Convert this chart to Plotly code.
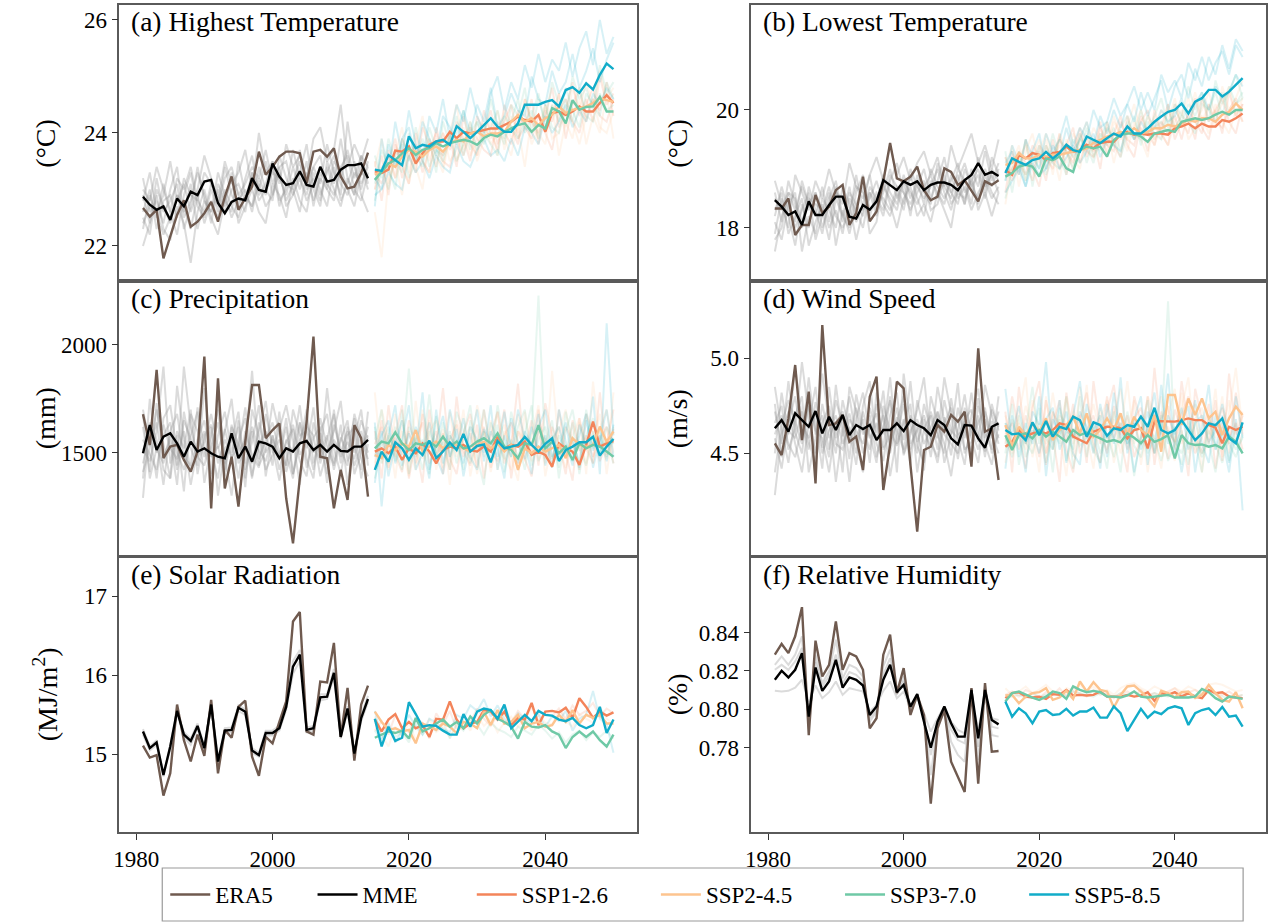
import plotly.graph_objects as go

# ---------------------------------------------------------------- data
years_hist = list(range(1981, 2015))
years_fut = list(range(2015, 2051))

# (a) Highest temperature, degC
tmax_era5 = [22.67,22.52,22.64,21.78,22.17,22.55,22.81,22.34,22.43,22.58,22.78,22.43,22.87,23.23,22.64,22.84,23.05,23.67,23.26,23.40,
             23.58,23.67,23.67,23.64,23.11,23.67,23.70,23.58,23.73,23.23,23.02,23.05,23.29,23.65]
tmax_mme = [22.87,22.73,22.64,22.70,22.46,22.84,22.70,22.96,22.90,23.14,23.17,22.76,22.58,22.78,22.84,22.81,23.20,22.99,22.96,23.46,
            23.23,23.08,23.11,23.32,23.08,23.05,23.40,23.14,23.17,23.35,23.43,23.43,23.46,23.20]
tmax_ssp126 = [23.32,23.29,23.35,23.69,23.67,23.76,23.46,23.64,23.79,23.85,23.85,24.02,23.91,24.02,23.99,24.02,24.05,24.08,24.08,24.14,
               24.20,24.29,24.23,24.20,24.32,24.02,24.35,24.38,24.32,24.38,24.47,24.38,24.38,24.53,24.67,24.53]
tmax_ssp245 = [23.26,23.32,23.46,23.40,23.58,23.70,23.67,23.58,23.70,23.76,23.67,23.82,23.88,23.85,23.99,24.02,23.94,23.99,23.99,24.02,
               24.20,24.32,24.20,24.26,24.14,24.26,24.32,24.47,24.35,24.41,24.44,24.47,24.53,24.61,24.58,24.55]
tmax_ssp370 = [23.17,23.32,23.46,23.52,23.64,23.73,23.61,23.70,23.73,23.82,23.76,23.82,23.85,23.88,23.85,23.79,23.91,23.97,23.94,24.02,
               24.08,24.14,24.17,24.02,24.14,24.08,24.44,24.38,24.17,24.58,24.41,24.46,24.47,24.64,24.38,24.38]
tmax_ssp585 = [23.35,23.33,23.61,23.52,23.43,23.94,23.73,23.79,23.76,23.85,23.88,23.79,24.12,24.02,23.91,24.02,24.14,24.26,24.11,24.02,
               24.02,24.17,24.50,24.50,24.50,24.55,24.58,24.47,24.76,24.81,24.71,24.88,24.77,25.03,25.23,25.13]
tmax_hist_members = [
    [22.3,22.9,22.5,23.1,22.6,22.2,22.9,23.3,22.7,22.5,23.0,22.6,23.4,22.9,22.7,23.2,23.6,22.9,23.1,23.5,22.8,23.0,23.7,23.2,22.9,23.4,23.1,23.8,23.3,22.9,24.2,23.4,23.0,23.5],
    [23.2,22.6,22.8,22.4,23.0,23.4,22.5,22.8,23.3,22.9,22.4,23.1,22.8,22.6,23.5,22.9,22.7,23.4,23.0,22.8,23.6,23.2,22.9,23.3,23.8,23.0,22.7,23.5,23.1,23.9,23.2,22.9,23.6,23.1],
    [22.0,22.4,22.9,22.3,22.1,22.7,22.4,21.7,22.6,23.0,22.5,22.2,22.8,23.2,22.4,22.7,23.0,22.6,22.4,23.1,22.9,22.5,23.2,22.8,22.6,23.3,23.0,22.7,23.4,22.8,23.1,23.5,22.9,22.6],
    [22.8,23.3,22.6,22.9,23.5,22.8,23.1,22.6,23.0,23.6,23.2,22.8,23.5,23.1,23.3,23.7,23.0,24.0,23.3,23.5,23.1,23.8,23.4,23.6,23.2,23.9,24.1,23.5,23.7,24.5,23.4,23.8,23.5,23.9],
    [22.5,22.2,23.0,22.7,22.4,22.9,22.6,23.1,22.3,22.8,22.6,23.3,22.9,22.5,22.8,23.0,22.6,23.2,22.9,23.4,22.7,23.1,23.0,22.6,23.3,22.8,23.2,23.0,22.8,23.4,23.0,22.7,23.3,23.2],
    [22.6,23.0,22.3,22.8,22.9,22.5,23.2,22.9,22.8,22.6,23.1,22.9,22.6,23.0,23.1,22.8,23.3,23.0,23.5,22.9,23.3,22.8,23.1,23.5,23.0,23.2,22.9,23.3,23.6,23.1,22.9,23.3,23.1,23.4],
    [22.9,22.4,23.2,22.6,22.8,23.1,22.3,22.7,23.4,22.8,22.6,23.0,22.7,23.3,22.9,22.6,23.3,22.8,23.0,23.3,23.2,22.9,23.4,23.0,23.5,22.7,23.3,23.1,22.9,23.4,23.6,23.0,22.8,23.3],
    [22.4,22.7,22.6,22.2,22.5,22.9,22.7,22.3,22.9,22.4,22.8,22.5,23.0,22.7,22.5,22.9,22.7,23.1,22.7,22.9,23.4,22.7,22.9,23.2,22.8,23.1,22.8,23.4,23.0,22.7,23.2,22.9,23.4,23.0],
    [23.0,22.8,23.4,23.0,22.6,23.2,23.0,23.4,22.8,23.3,23.1,22.7,23.2,23.4,22.9,23.1,23.4,23.2,23.7,23.1,23.4,23.5,23.0,23.7,23.1,23.4,23.6,23.0,23.5,23.3,23.7,23.2,23.6,23.4],
]
tmax_ssp126_members = [
    [23.0,23.6,22.9,23.8,23.4,23.1,24.0,23.5,23.3,24.1,23.6,23.9,23.4,24.3,23.8,23.6,24.4,24.0,23.7,24.5,24.1,23.8,24.6,24.2,24.0,24.3,24.8,24.1,24.4,24.9,24.3,24.6,24.2,25.0,24.5,24.7],
    [23.5,22.8,23.7,23.2,23.9,23.6,23.3,24.1,23.8,23.4,24.0,23.7,24.2,23.9,23.5,24.3,24.0,24.4,23.8,24.2,24.5,23.9,24.1,24.6,23.8,24.4,24.2,24.7,23.9,24.5,24.8,24.2,24.6,24.4,24.9,24.3],
    [23.3,23.1,23.5,23.9,23.2,23.6,23.8,23.3,23.7,24.0,23.5,23.4,23.9,23.6,24.1,23.9,23.7,23.6,24.2,24.0,23.8,24.4,24.1,23.9,24.3,24.0,23.7,24.4,24.6,24.2,24.0,24.5,24.8,24.3,24.2,24.6],
]
tmax_ssp245_members = [
    [22.6,21.8,23.2,23.5,22.9,23.8,23.4,23.0,23.9,23.6,23.3,24.0,23.5,23.8,24.2,23.6,24.1,23.9,24.4,23.7,24.3,24.0,24.6,24.2,23.9,24.5,24.3,24.7,24.1,24.8,24.4,24.9,24.5,25.1,24.6,24.8],
    [23.4,23.9,23.1,23.6,24.1,23.3,23.8,24.3,23.5,23.9,23.4,24.0,24.5,23.7,24.1,23.5,23.9,24.2,23.6,24.4,23.9,24.1,23.4,24.3,24.0,23.8,24.5,23.6,24.2,23.9,24.6,23.8,24.3,24.0,24.7,23.9],
    [23.0,23.4,23.6,23.2,23.5,23.1,23.7,23.5,23.3,23.8,24.0,23.5,23.7,24.1,23.6,23.9,24.2,23.8,24.0,23.9,23.6,24.2,24.4,23.8,24.1,24.5,23.9,24.0,24.4,24.2,23.8,24.3,24.6,24.1,24.0,24.4],
]
tmax_ssp370_members = [
    [23.1,23.7,23.4,23.0,23.9,23.5,24.1,23.6,23.9,23.3,24.2,23.8,24.0,24.4,23.7,24.2,23.9,24.6,24.1,23.8,24.5,24.3,24.8,24.0,24.6,24.2,24.9,24.5,24.3,25.0,24.6,24.8,24.4,25.2,24.7,24.9],
    [23.6,23.2,23.9,23.5,23.3,24.0,23.6,23.4,24.1,23.7,23.5,23.9,24.3,23.6,24.0,24.2,23.8,24.1,24.4,23.9,24.2,24.6,24.0,24.3,24.7,24.1,24.5,24.2,24.8,24.4,24.1,24.7,24.5,24.3,24.9,24.6],
    [22.8,23.4,23.0,23.6,23.8,23.2,23.5,23.9,23.4,23.7,23.6,24.0,23.5,23.8,24.2,23.7,24.0,23.8,23.6,24.3,24.1,23.9,24.2,24.4,23.9,24.5,24.1,24.0,24.6,24.2,24.8,24.3,24.2,24.7,24.4,24.5],
]
tmax_ssp585_members = [
    [22.7,23.9,23.3,24.2,23.6,24.4,23.8,23.5,24.3,24.0,24.6,23.9,24.5,24.2,24.8,24.3,24.0,24.7,25.0,24.4,24.9,24.6,25.2,24.8,25.4,24.9,25.3,25.1,25.6,25.0,25.5,25.8,25.2,26.0,25.4,25.7],
    [22.9,23.0,23.3,23.1,23.0,23.6,23.3,23.5,23.2,23.6,23.4,23.3,23.8,23.5,23.4,23.7,23.9,23.6,23.7,23.5,23.9,23.6,24.1,24.0,23.8,24.3,24.0,24.2,24.5,24.1,24.4,24.2,24.7,24.5,24.8,24.6],
    [23.2,23.0,23.8,23.4,23.9,24.1,23.5,24.2,23.9,23.6,24.3,24.1,23.8,24.4,24.0,24.5,24.2,24.8,24.1,24.3,24.7,24.4,24.3,25.0,24.6,24.5,25.1,24.7,24.9,25.4,24.8,25.1,25.5,24.9,25.3,25.6],
]

# (b) Lowest temperature, degC
tmin_era5 = [18.33,18.33,18.50,17.88,18.05,18.05,18.56,18.25,18.36,18.64,18.73,18.05,18.25,18.87,18.11,18.28,18.79,19.44,18.84,18.79,
             18.87,19.04,18.64,18.47,18.53,19.01,18.95,18.73,18.81,18.62,18.45,18.79,18.73,18.81]
tmin_mme = [18.47,18.36,18.22,18.28,18.05,18.45,18.22,18.22,18.39,18.53,18.53,18.19,18.16,18.39,18.31,18.45,18.81,18.73,18.64,18.79,
            18.73,18.79,18.64,18.73,18.77,18.77,18.73,18.64,18.81,18.90,19.10,18.90,18.95,18.88]
tmin_ssp126 = [18.98,18.90,19.24,19.18,19.27,19.24,19.15,19.27,19.29,19.38,19.29,19.32,19.41,19.35,19.44,19.46,19.46,19.58,19.63,19.58,
               19.60,19.58,19.60,19.60,19.58,19.69,19.72,19.77,19.69,19.77,19.72,19.72,19.83,19.80,19.86,19.94]
tmin_ssp245 = [19.07,19.10,19.27,19.18,19.18,19.24,19.21,19.24,19.24,19.27,19.29,19.32,19.35,19.44,19.49,19.55,19.58,19.63,19.60,19.69,
               19.60,19.63,19.69,19.69,19.75,19.72,19.77,19.83,19.80,19.86,19.86,19.80,19.92,19.97,20.11,20.00]
tmin_ssp370 = [18.87,18.93,19.04,19.07,19.04,18.87,19.18,19.15,19.21,19.01,18.95,19.32,19.38,19.35,19.38,19.21,19.49,19.58,19.60,19.60,
               19.55,19.46,19.60,19.63,19.66,19.63,19.80,19.83,19.86,19.83,19.86,19.92,19.97,19.92,20.00,20.00]
tmin_ssp585 = [18.93,19.18,19.12,19.07,19.15,19.18,19.29,19.18,19.27,19.41,19.32,19.29,19.55,19.49,19.44,19.52,19.60,19.55,19.72,19.60,
               19.60,19.69,19.80,19.89,19.97,20.00,20.11,19.94,20.14,20.20,20.34,20.34,20.23,20.31,20.42,20.54]
tmin_hist_members = [
    [17.9,18.5,18.2,17.7,18.4,18.0,18.6,18.3,17.8,18.5,18.2,18.7,18.1,18.4,18.9,18.3,18.6,19.0,18.5,18.8,18.2,18.9,18.6,18.4,19.1,18.7,18.5,19.0,18.8,18.4,19.2,18.7,18.9,18.6],
    [18.6,18.1,18.8,18.4,18.0,18.7,18.3,17.9,18.5,18.8,18.2,18.0,18.6,18.9,18.3,18.5,18.2,18.8,19.1,18.6,18.4,18.7,19.0,18.5,18.8,19.2,18.6,18.9,18.4,19.0,18.7,19.3,18.8,19.1],
    [18.1,17.8,18.4,18.6,17.6,18.2,17.9,18.5,18.3,18.0,18.7,18.4,17.8,18.3,18.5,18.8,18.4,18.2,18.6,18.3,18.9,18.5,18.2,18.8,18.6,18.4,18.9,18.5,18.7,18.3,18.6,18.8,18.5,18.7],
    [18.8,18.4,18.0,18.9,18.6,18.3,18.8,18.5,19.0,18.6,18.4,19.1,18.7,18.5,18.9,19.2,18.8,19.4,18.9,19.2,18.8,19.1,19.3,18.9,19.2,18.7,19.4,19.0,19.3,19.6,19.1,19.4,19.0,19.5],
    [18.3,18.6,17.9,18.2,18.5,17.7,18.1,18.4,18.0,18.3,17.9,18.5,18.3,18.0,18.6,18.2,18.7,18.5,18.3,18.8,18.6,18.4,18.7,18.9,18.5,18.8,18.6,18.4,19.0,18.7,18.9,18.5,19.0,18.8],
    [17.6,18.2,18.5,18.0,18.3,18.6,17.8,18.2,18.6,17.7,18.3,17.9,18.4,18.7,17.9,18.1,18.8,18.4,18.0,18.5,18.7,18.2,18.4,18.1,18.6,18.3,18.0,18.7,18.4,18.9,18.3,18.6,18.2,18.6],
    [18.2,18.7,18.3,18.1,18.8,18.4,18.2,18.7,18.1,18.6,18.5,18.2,18.9,18.3,18.6,18.4,18.9,18.6,18.4,18.9,18.5,18.8,18.4,19.0,18.7,18.5,18.8,19.1,18.6,18.8,19.0,18.6,19.2,18.9],
    [18.5,18.3,18.6,18.3,18.7,18.4,18.6,18.0,18.4,18.7,18.1,18.6,18.4,18.2,18.7,18.5,18.3,18.9,18.7,18.4,19.0,18.7,18.5,18.7,19.0,18.6,18.3,18.8,19.1,18.7,18.5,19.0,18.7,19.0],
    [17.8,18.0,18.6,18.5,18.1,18.5,18.4,18.3,18.7,18.2,18.0,18.3,18.7,18.6,18.2,18.6,18.5,18.3,18.7,18.6,18.3,18.6,18.8,18.3,18.4,18.9,18.4,18.6,18.5,18.8,18.4,18.9,18.6,18.4],
]
tmin_ssp126_members = [
    [18.6,19.3,18.9,19.5,19.0,18.7,19.4,19.1,19.6,18.9,19.3,19.7,19.2,19.5,19.0,19.8,19.4,19.2,19.9,19.5,19.7,19.3,20.0,19.6,19.4,20.1,19.7,19.9,19.5,20.2,19.8,20.0,19.6,20.3,19.9,20.1],
    [19.2,18.8,19.1,18.9,19.4,19.2,18.8,19.5,19.0,19.4,19.7,19.1,19.5,19.3,19.8,19.2,19.6,19.9,19.4,19.2,19.8,20.0,19.5,19.7,20.1,19.5,19.8,19.6,20.2,19.7,19.5,20.0,20.2,19.8,19.6,20.1],
    [18.9,19.0,19.3,19.1,18.8,19.4,19.2,19.0,19.5,19.3,19.1,19.6,19.3,19.2,19.7,19.4,19.3,19.8,19.5,19.4,19.9,19.6,19.4,19.8,19.6,19.9,19.5,20.0,19.8,19.6,20.1,19.8,19.7,20.0,20.2,19.8],
]
tmin_ssp245_members = [
    [19.0,19.4,18.7,19.3,19.6,19.1,19.5,18.9,19.6,19.3,19.0,19.5,19.8,19.3,19.6,19.4,19.9,19.5,19.7,20.1,19.6,19.9,19.4,20.0,19.8,20.2,19.7,19.9,20.3,19.8,20.1,19.7,20.4,20.0,20.2,20.5],
    [18.4,19.1,19.4,18.8,19.2,19.5,19.0,19.3,18.8,19.5,19.2,19.0,19.6,19.2,19.4,19.7,19.1,19.6,19.3,19.8,19.5,19.2,19.9,19.6,19.4,19.8,20.0,19.5,19.7,19.9,19.6,20.1,19.8,19.6,20.0,19.8],
    [19.2,18.9,19.2,19.4,19.0,19.3,19.6,19.2,19.4,19.1,19.6,19.4,19.3,19.7,19.5,19.3,19.8,19.6,19.5,19.7,20.0,19.6,19.8,19.5,20.1,19.7,19.9,20.2,19.8,20.0,20.3,19.9,20.1,20.4,19.9,20.2],
]
tmin_ssp370_members = [
    [18.8,19.2,19.0,19.5,18.7,19.3,19.1,19.6,19.2,18.9,19.5,19.3,19.7,19.2,19.5,19.8,19.4,19.7,19.9,19.5,20.0,19.6,19.9,20.2,19.7,20.1,19.9,20.4,20.0,20.3,19.8,20.5,20.1,20.3,20.6,20.2],
    [19.3,18.6,19.3,18.9,19.1,19.4,18.9,19.2,19.5,19.3,19.0,19.6,19.1,19.5,19.3,19.7,19.5,19.2,19.6,19.9,19.4,19.8,19.6,19.5,20.0,19.7,19.9,19.8,19.6,20.1,20.0,19.8,20.3,19.9,20.1,20.2],
    [18.5,19.0,19.2,18.8,19.3,19.0,19.4,19.1,19.0,19.4,19.2,19.5,19.4,19.1,19.6,19.4,19.7,19.3,19.8,19.6,19.5,19.9,19.7,19.8,19.6,20.0,19.8,20.1,19.9,20.2,20.0,20.3,19.9,20.4,20.1,20.3],
]
tmin_ssp585_members = [
    [18.6,18.8,19.0,18.7,19.1,18.9,19.0,19.3,19.0,19.2,19.4,19.1,19.3,19.6,19.2,19.5,19.4,19.3,19.7,19.5,19.8,19.6,19.7,20.0,19.8,19.9,20.2,19.8,20.1,20.3,20.0,20.4,20.2,20.3,20.6,20.4],
    [18.8,19.4,19.1,18.7,19.3,19.6,19.0,19.4,19.2,19.7,19.3,19.5,19.8,19.4,19.9,19.6,20.0,19.7,20.1,19.8,20.3,19.9,20.2,20.5,20.0,20.4,20.6,20.2,20.7,20.4,20.9,20.6,21.1,20.7,21.2,21.0],
    [19.1,19.3,18.9,19.5,19.2,19.0,19.6,19.3,19.5,19.9,19.4,19.7,19.5,20.0,19.7,19.8,20.2,19.9,20.1,20.4,20.0,20.3,20.0,20.6,20.3,20.5,20.2,20.8,20.5,20.9,20.5,20.8,21.0,20.6,21.1,20.9],
]

# (c) Precipitation, mm
precip_era5 = [1678,1536,1884,1474,1528,1536,1466,1412,1505,1946,1241,1845,1334,1481,1249,1551,1814,1814,1567,1605,
               1636,1288,1079,1381,1644,2039,1481,1474,1241,1420,1280,1628,1567,1296]
precip_mme = [1497,1628,1512,1574,1590,1543,1481,1551,1505,1520,1497,1481,1474,1590,1474,1528,1458,1551,1543,1528,
              1474,1520,1505,1543,1554,1512,1536,1505,1536,1508,1505,1528,1528,1559]
precip_ssp126 = [1505,1520,1497,1528,1466,1520,1497,1543,1505,1450,1512,1528,1520,1536,1512,1505,1528,1505,1574,1520,
                 1536,1528,1551,1489,1505,1489,1435,1543,1520,1505,1443,1536,1644,1528,1543,1554]
precip_ssp245 = [1489,1474,1536,1512,1543,1528,1605,1505,1528,1551,1520,1543,1536,1520,1505,1536,1551,1520,1543,1505,
                 1536,1420,1520,1497,1528,1505,1520,1536,1474,1567,1536,1528,1536,1621,1551,1598]
precip_ssp370 = [1520,1551,1543,1594,1543,1512,1543,1536,1551,1528,1574,1528,1551,1520,1528,1551,1567,1543,1590,1528,
                 1512,1474,1543,1536,1628,1520,1551,1497,1528,1466,1543,1520,1536,1528,1505,1481]
precip_ssp585 = [1420,1505,1458,1548,1520,1466,1520,1489,1556,1474,1505,1548,1512,1587,1505,1531,1538,1455,1554,1520,
                 1528,1536,1573,1536,1505,1541,1567,1461,1512,1528,1548,1548,1574,1486,1528,1563]
precip_hist_members = [
    [1620,1410,1730,1480,1560,1350,1690,1520,1440,1800,1500,1380,1610,1470,1650,1420,1550,1720,1390,1580,1480,1660,1400,1540,1700,1450,1590,1360,1630,1510,1440,1680,1560,1470],
    [1450,1590,1380,1660,1720,1500,1420,1580,1690,1360,1530,1640,1450,1570,1380,1600,1490,1430,1680,1520,1370,1550,1610,1460,1390,1640,1500,1580,1420,1560,1650,1400,1500,1620],
    [1700,1530,1640,1420,1380,1810,1560,1350,1520,1600,1400,1750,1480,1300,1560,1660,1390,1530,1600,1440,1690,1410,1520,1720,1470,1380,1660,1530,1440,1630,1350,1570,1700,1440],
    [1380,1750,1500,1580,1640,1440,1900,1620,1480,1550,1680,1520,1600,1750,1450,1520,1880,1470,1560,1640,1500,1440,1700,1580,1600,1520,1470,1800,1520,1400,1580,1620,1380,1540],
    [1520,1460,1600,1900,1450,1580,1320,1680,1600,1480,1620,1300,1520,1560,1690,1380,1600,1440,1510,1730,1590,1500,1380,1640,1520,1710,1450,1560,1680,1480,1550,1470,1600,1500],
    [1290,1640,1560,1350,1600,1680,1480,1440,1710,1520,1390,1580,1690,1500,1620,1340,1700,1580,1420,1490,1610,1720,1560,1350,1620,1580,1390,1510,1600,1740,1460,1530,1420,1690],
    [1560,1490,1420,1630,1520,1470,1600,1410,1560,1650,1480,1530,1390,1620,1540,1450,1620,1510,1460,1580,1420,1560,1500,1640,1430,1570,1620,1450,1560,1500,1600,1440,1530,1580],
    [1410,1520,1700,1540,1380,1600,1520,1700,1400,1580,1630,1450,1560,1480,1520,1710,1450,1600,1740,1500,1560,1440,1630,1490,1560,1420,1600,1680,1450,1570,1500,1660,1470,1390],
    [1680,1380,1520,1450,1590,1420,1650,1560,1480,1440,1580,1700,1420,1630,1500,1560,1380,1640,1500,1560,1480,1620,1400,1560,1650,1500,1560,1400,1700,1450,1620,1500,1650,1560],
]
precip_ssp126_members = [
    [1600,1380,1720,1490,1410,1650,1530,1360,1700,1480,1590,1420,1760,1510,1440,1630,1380,1580,1690,1450,1540,1820,1470,1390,1610,1560,1430,1700,1500,1370,1660,1520,1450,1780,1490,1610],
    [1420,1650,1500,1580,1720,1380,1560,1640,1450,1530,1800,1470,1400,1590,1680,1500,1620,1430,1550,1700,1380,1600,1510,1650,1440,1730,1580,1480,1620,1550,1420,1680,1590,1460,1540,1700],
    [1540,1620,1430,1570,1490,1600,1450,1680,1520,1600,1400,1560,1630,1480,1590,1430,1700,1510,1460,1580,1640,1450,1560,1500,1700,1470,1620,1540,1400,1650,1510,1580,1480,1560,1620,1450],
]
precip_ssp245_members = [
    [1780,1450,1590,1380,1650,1520,1420,1700,1560,1480,1610,1350,1650,1540,1470,1720,1590,1410,1560,1630,1480,1370,1690,1500,1600,1450,1880,1520,1430,1580,1660,1400,1830,1550,1470,1780],
    [1490,1560,1420,1680,1510,1390,1740,1470,1600,1650,1430,1580,1500,1700,1390,1560,1480,1650,1420,1600,1540,1680,1460,1580,1720,1390,1550,1620,1500,1470,1640,1550,1450,1610,1700,1500],
    [1450,1700,1560,1480,1600,1450,1580,1500,1650,1420,1560,1690,1480,1560,1620,1400,1600,1530,1690,1480,1420,1600,1560,1460,1650,1540,1470,1600,1700,1500,1560,1450,1560,1680,1400,1620],
]
precip_ssp370_members = [
    [1560,1700,1450,1620,1530,1890,1480,1560,1400,1670,1520,1600,1450,1580,1720,1480,1350,1640,1550,1470,1690,1560,1420,1610,2230,1500,1580,1430,1690,1540,1460,1700,1520,1610,1480,1570],
    [1380,1530,1620,1460,1700,1400,1580,1510,1770,1480,1550,1420,1690,1600,1450,1540,1700,1500,1630,1410,1560,1480,1590,1720,1460,1540,1650,1380,1600,1700,1520,1440,1600,1480,1620,1540],
    [1620,1450,1580,1520,1420,1620,1550,1420,1600,1500,1640,1480,1560,1420,1650,1520,1600,1460,1720,1550,1480,1620,1700,1440,1560,1620,1470,1580,1500,1640,1400,1580,1660,1500,1560,1450],
]
precip_ssp585_members = [
    [1640,1250,1580,1720,1440,1590,1500,1780,1420,1560,1670,1480,1610,1390,1550,1700,1460,1600,1520,1380,1660,1540,1470,1620,1500,1580,1430,1700,1550,1440,1630,1520,1760,1400,2100,1580],
    [1480,1600,1390,1540,1650,1470,1620,1520,1380,1700,1450,1580,1520,1660,1480,1420,1610,1550,1480,1690,1520,1450,1600,1530,1680,1440,1560,1620,1490,1570,1430,1650,1510,1580,1460,1630],
    [1360,1580,1650,1450,1560,1720,1420,1500,1640,1480,1400,1700,1560,1450,1620,1560,1500,1720,1420,1580,1480,1700,1560,1400,1620,1700,1480,1520,1640,1460,1580,1680,1430,1560,1700,1480],
]

# (d) Wind speed, m/s
wind_era5 = [4.553,4.491,4.684,4.965,4.570,4.825,4.342,5.175,4.649,4.658,4.702,4.561,4.588,4.412,4.798,4.904,4.307,4.544,4.877,4.842,
             4.439,4.088,4.518,4.535,4.649,4.614,4.702,4.667,4.719,4.430,5.053,4.614,4.632,4.360]
wind_mme = [4.632,4.675,4.614,4.711,4.675,4.640,4.723,4.605,4.693,4.623,4.702,4.596,4.649,4.628,4.649,4.570,4.623,4.623,4.658,4.618,
            4.675,4.649,4.632,4.596,4.675,4.649,4.579,4.547,4.649,4.646,4.579,4.530,4.640,4.658]
wind_ssp126 = [4.535,4.561,4.623,4.588,4.605,4.614,4.605,4.623,4.658,4.649,4.588,4.570,4.553,4.614,4.628,4.640,4.640,4.632,4.579,4.623,
               4.632,4.526,4.670,4.670,4.670,4.667,4.675,4.684,4.675,4.675,4.649,4.635,4.553,4.640,4.623,4.640]
wind_ssp245 = [4.649,4.535,4.640,4.596,4.658,4.614,4.684,4.570,4.623,4.649,4.693,4.605,4.711,4.588,4.623,4.684,4.623,4.711,4.596,4.693,
               4.623,4.596,4.702,4.509,4.807,4.807,4.649,4.789,4.702,4.789,4.684,4.719,4.596,4.684,4.746,4.702]
wind_ssp370 = [4.596,4.518,4.596,4.605,4.579,4.623,4.588,4.614,4.588,4.561,4.623,4.596,4.610,4.596,4.579,4.561,4.570,4.558,4.605,4.582,
               4.553,4.596,4.561,4.575,4.596,4.474,4.596,4.553,4.544,4.547,4.535,4.544,4.526,4.588,4.561,4.500]
wind_ssp585 = [4.623,4.600,4.605,4.570,4.663,4.596,4.670,4.588,4.640,4.628,4.693,4.675,4.588,4.663,4.649,4.593,4.632,4.623,4.649,4.640,
               4.693,4.640,4.740,4.623,4.605,4.623,4.675,4.623,4.570,4.605,4.658,4.649,4.684,4.579,4.553,4.663]
wind_hist_members = [
    [4.72,4.55,4.88,4.61,4.50,4.79,4.66,4.42,4.85,4.58,4.70,4.47,4.81,4.63,4.52,4.76,4.60,4.90,4.55,4.68,4.44,4.78,4.62,4.53,4.85,4.66,4.49,4.74,4.58,4.82,4.60,4.51,4.73,4.64],
    [4.50,4.82,4.60,4.95,4.68,4.52,4.77,4.63,4.48,4.86,4.59,4.71,4.55,4.40,4.74,4.61,4.83,4.50,4.69,4.57,4.88,4.54,4.45,4.72,4.60,4.50,4.79,4.58,4.67,4.48,4.75,4.61,4.52,4.80],
    [4.85,4.62,4.45,4.70,4.80,4.40,4.58,4.92,4.66,4.50,4.78,4.62,4.44,4.75,4.88,4.55,4.46,4.70,4.82,4.49,4.60,4.73,4.90,4.56,4.48,4.69,4.60,4.87,4.50,4.62,4.79,4.55,4.44,4.66],
    [4.28,4.60,4.72,4.55,4.40,4.66,4.85,4.53,4.70,4.35,4.62,4.80,4.58,4.68,4.45,4.82,4.70,4.38,4.59,4.76,4.52,4.64,4.41,4.80,4.66,4.55,4.38,4.62,4.81,4.58,4.45,4.72,4.60,4.50],
    [4.66,4.75,4.52,4.63,4.98,4.70,4.50,4.76,4.58,4.67,4.40,4.85,4.72,4.50,4.64,4.71,4.53,4.80,4.40,4.92,4.65,4.50,4.76,4.62,4.58,4.90,4.71,4.47,4.68,4.73,4.56,4.86,4.70,4.58],
    [4.58,4.42,4.66,4.80,4.57,4.90,4.60,4.70,4.52,4.78,4.65,4.35,4.68,4.82,4.60,4.45,4.75,4.62,4.54,4.66,4.76,4.40,4.63,4.70,4.52,4.78,4.62,4.58,4.44,4.70,4.84,4.58,4.67,4.55],
    [4.60,4.70,4.55,4.48,4.65,4.58,4.72,4.50,4.62,4.70,4.55,4.64,4.50,4.72,4.58,4.66,4.52,4.60,4.74,4.50,4.62,4.68,4.55,4.64,4.72,4.45,4.60,4.68,4.52,4.56,4.66,4.74,4.50,4.60],
    [4.76,4.48,4.62,4.58,4.72,4.56,4.45,4.66,4.75,4.55,4.52,4.68,4.62,4.55,4.70,4.48,4.64,4.78,4.62,4.52,4.70,4.56,4.68,4.48,4.72,4.60,4.55,4.50,4.74,4.62,4.52,4.68,4.58,4.72],
    [4.40,4.65,4.78,4.66,4.55,4.75,4.62,4.58,4.40,4.66,4.72,4.55,4.74,4.60,4.66,4.58,4.70,4.55,4.66,4.80,4.55,4.62,4.70,4.58,4.45,4.66,4.74,4.60,4.62,4.52,4.70,4.48,4.76,4.62],
]
wind_ssp126_members = [
    [4.72,4.40,4.85,4.55,4.66,4.48,4.78,4.60,4.35,4.82,4.58,4.70,4.45,4.88,4.62,4.50,4.75,4.57,4.40,4.80,4.66,4.52,4.95,4.60,4.47,4.73,4.62,4.38,4.84,4.68,4.55,4.78,4.46,4.92,4.60,4.70],
    [4.55,4.80,4.62,4.42,4.74,4.88,4.50,4.65,4.78,4.52,4.40,4.68,4.82,4.56,4.45,4.72,4.86,4.60,4.70,4.48,4.58,4.80,4.44,4.68,4.75,4.52,4.88,4.64,4.50,4.58,4.76,4.42,4.66,4.55,4.82,4.60],
    [4.60,4.66,4.52,4.70,4.58,4.62,4.44,4.72,4.64,4.56,4.76,4.50,4.62,4.70,4.55,4.80,4.58,4.66,4.52,4.68,4.74,4.60,4.50,4.72,4.62,4.56,4.70,4.80,4.60,4.50,4.68,4.62,4.74,4.58,4.66,4.52],
]
wind_ssp245_members = [
    [4.62,4.50,4.70,4.90,4.48,4.64,4.55,4.82,4.60,4.38,4.72,4.58,4.86,4.50,4.68,4.78,4.45,4.62,4.88,4.55,4.70,4.40,4.66,4.80,4.58,4.46,4.74,4.90,4.52,4.68,4.60,4.84,4.48,4.72,4.95,4.62],
    [4.45,4.68,4.58,4.75,4.62,4.40,4.80,4.52,4.70,4.66,4.48,4.85,4.60,4.42,4.74,4.56,4.68,4.50,4.62,4.78,4.44,4.66,4.58,4.42,4.70,4.84,4.55,4.62,4.76,4.40,4.66,4.58,4.80,4.50,4.64,4.72],
    [4.70,4.58,4.66,4.52,4.78,4.60,4.50,4.72,4.62,4.80,4.55,4.66,4.58,4.76,4.60,4.52,4.70,4.84,4.60,4.66,4.54,4.80,4.70,4.58,4.64,4.56,4.82,4.50,4.68,4.74,4.56,4.66,4.62,4.78,4.56,4.70],
]
wind_ssp370_members = [
    [4.50,4.76,4.44,4.62,4.85,4.55,4.68,4.40,4.74,4.60,4.52,4.80,4.48,4.66,4.58,4.42,4.72,4.55,4.64,4.38,4.60,4.78,4.50,4.62,5.30,4.54,4.44,4.68,4.56,4.40,4.70,4.52,4.62,4.46,4.58,4.50],
    [4.66,4.52,4.70,4.48,4.58,4.74,4.45,4.62,4.55,4.80,4.42,4.60,4.70,4.52,4.45,4.66,4.58,4.40,4.72,4.54,4.48,4.64,4.58,4.70,4.46,4.55,4.62,4.44,4.68,4.50,4.56,4.40,4.64,4.55,4.48,4.60],
    [4.58,4.48,4.62,4.56,4.50,4.66,4.58,4.52,4.68,4.46,4.62,4.54,4.58,4.64,4.50,4.60,4.48,4.66,4.55,4.62,4.70,4.50,4.58,4.46,4.62,4.56,4.50,4.64,4.58,4.48,4.62,4.55,4.45,4.60,4.52,4.58],
]
wind_ssp585_members = [
    [4.84,4.55,4.60,4.40,4.72,4.65,4.98,4.52,4.78,4.45,4.70,4.88,4.58,4.62,4.42,4.76,4.55,4.90,4.50,4.68,4.80,4.44,4.72,4.60,4.92,4.48,4.66,4.75,4.40,4.62,4.86,4.52,4.70,4.45,4.80,4.58],
    [4.42,4.70,4.48,4.66,4.55,4.80,4.38,4.68,4.60,4.72,4.50,4.44,4.76,4.62,4.70,4.48,4.82,4.58,4.65,4.40,4.58,4.72,4.50,4.86,4.55,4.64,4.40,4.60,4.78,4.55,4.45,4.70,4.58,4.40,4.68,4.20],
    [4.66,4.60,4.75,4.55,4.62,4.50,4.68,4.74,4.52,4.62,4.58,4.72,4.64,4.50,4.76,4.58,4.62,4.70,4.55,4.66,4.52,4.64,4.82,4.55,4.70,4.60,4.74,4.52,4.66,4.70,4.56,4.62,4.76,4.60,4.55,4.66],
]

# (e) Solar radiation, MJ/m2
solar_era5 = [15.11,14.96,14.99,14.48,14.76,15.63,15.18,14.91,15.25,14.98,15.69,14.76,15.31,15.21,15.60,15.68,14.97,14.73,15.22,15.14,
              15.41,15.67,16.68,16.80,15.29,15.25,15.92,15.91,16.41,15.22,15.84,14.92,15.63,15.87]
solar_mme = [15.29,15.08,15.15,14.74,15.10,15.55,15.25,15.17,15.36,15.08,15.63,14.91,15.30,15.31,15.59,15.54,15.05,14.99,15.27,15.27,
             15.33,15.60,16.11,16.26,15.31,15.33,15.72,15.73,16.03,15.22,15.58,15.01,15.46,15.70]
solar_ssp126 = [15.44,15.29,15.44,15.51,15.33,15.41,15.33,15.37,15.22,15.45,15.44,15.67,15.44,15.33,15.39,15.41,15.56,15.54,15.44,15.54,
                15.37,15.46,15.44,15.65,15.37,15.54,15.55,15.53,15.59,15.46,15.71,15.60,15.46,15.54,15.49,15.53]
solar_ssp245 = [15.54,15.41,15.31,15.33,15.29,15.31,15.14,15.39,15.35,15.31,15.39,15.35,15.27,15.41,15.39,15.33,15.54,15.37,15.56,15.39,
                15.41,15.50,15.33,15.39,15.41,15.35,15.37,15.50,15.41,15.56,15.39,15.50,15.46,15.50,15.39,15.39]
solar_ssp370 = [15.21,15.25,15.29,15.27,15.30,15.20,15.46,15.29,15.33,15.39,15.44,15.35,15.41,15.33,15.48,15.39,15.50,15.56,15.45,15.41,
                15.35,15.20,15.41,15.35,15.34,15.37,15.29,15.25,15.08,15.22,15.29,15.22,15.29,15.18,15.10,15.25]
solar_ssp585 = [15.45,15.10,15.35,15.17,15.21,15.66,15.51,15.35,15.37,15.36,15.30,15.25,15.25,15.51,15.35,15.54,15.58,15.56,15.45,15.63,
                15.33,15.41,15.50,15.42,15.55,15.50,15.49,15.44,15.42,15.46,15.37,15.33,15.37,15.60,15.27,15.44]
solar_hist_members = [
    [15.25,15.05,15.12,14.78,15.05,15.52,15.22,15.12,15.33,15.05,15.60,14.88,15.27,15.28,15.55,15.50,15.02,14.97,15.24,15.24,15.30,15.56,16.02,16.18,15.28,15.30,15.68,15.70,15.98,15.20,15.55,14.98,15.42,15.66],
    [15.32,15.10,15.18,14.72,15.12,15.57,15.28,15.20,15.39,15.10,15.66,14.94,15.33,15.34,15.62,15.57,15.08,15.02,15.30,15.30,15.36,15.63,16.18,16.32,15.34,15.36,15.76,15.76,16.08,15.25,15.61,15.04,15.50,15.74],
]
solar_ssp126_members = [
    [15.30,15.42,15.25,15.50,15.35,15.28,15.45,15.40,15.20,15.52,15.38,15.55,15.32,15.48,15.40,15.58,15.45,15.36,15.50,15.62,15.40,15.55,15.45,15.60,15.42,15.52,15.48,15.58,15.45,15.62,15.50,15.55,15.65,15.48,15.58,15.52],
]
solar_ssp245_members = [
    [15.48,15.25,15.10,15.35,15.22,15.40,15.18,15.30,15.45,15.28,15.35,15.22,15.38,15.42,15.30,15.50,15.36,15.45,15.28,15.40,15.48,15.35,15.45,15.30,15.52,15.40,15.38,15.55,15.42,15.35,15.50,15.45,15.40,15.60,15.45,15.38],
]
solar_ssp370_members = [
    [15.30,15.18,15.35,15.22,15.28,15.15,15.40,15.25,15.35,15.30,15.42,15.20,15.38,15.30,15.45,15.38,15.25,15.40,15.32,15.28,15.22,15.35,15.30,15.25,15.38,15.30,15.20,15.28,15.15,15.25,15.30,15.18,15.28,15.22,15.30,15.20],
]
solar_ssp585_members = [
    [15.55,15.20,15.40,15.15,15.30,15.50,15.35,15.25,15.45,15.40,15.32,15.28,15.50,15.45,15.62,15.55,15.70,15.48,15.62,15.45,15.38,15.52,15.44,15.40,15.50,15.35,15.48,15.42,15.55,15.30,15.45,15.50,15.80,15.45,15.38,15.02],
]

# (f) Relative humidity
rh_era5 = [0.8285,0.8341,0.8293,0.8381,0.8533,0.7865,0.8358,0.8171,0.8232,0.8459,0.8206,0.8293,0.8276,0.8206,0.7900,0.7953,0.8285,
           0.8390,0.8084,0.8215,0.7970,0.8075,0.7970,0.7507,0.7900,0.7996,0.7726,0.7647,0.7568,0.8110,0.7612,0.8136,0.7778,0.7782]
rh_mme = [0.8154,0.8201,0.8166,0.8206,0.8293,0.7962,0.8218,0.8096,0.8145,0.8258,0.8113,0.8166,0.8154,0.8124,0.7970,0.8014,0.8154,
          0.8232,0.8089,0.8127,0.8014,0.8079,0.7935,0.7799,0.7935,0.8014,0.7927,0.7857,0.7857,0.8101,0.7848,0.8101,0.7944,0.7921]
rh_ssp126 = [0.8058,0.8084,0.8089,0.8066,0.8061,0.8066,0.8054,0.8079,0.8075,0.8101,0.8072,0.8075,0.8072,0.8075,0.8093,0.8066,0.8066,0.8066,
             0.8075,0.8066,0.8072,0.8089,0.8044,0.8084,0.8075,0.8089,0.8066,0.8084,0.8066,0.8058,0.8101,0.8084,0.8089,0.8066,0.8061,0.8058]
rh_ssp245 = [0.8072,0.8075,0.8031,0.8066,0.8084,0.8089,0.8110,0.8049,0.8061,0.8096,0.8054,0.8145,0.8093,0.8141,0.8101,0.8093,0.8009,0.8075,
             0.8119,0.8124,0.8093,0.8058,0.8014,0.8096,0.8084,0.8061,0.8089,0.8093,0.8058,0.8075,0.8127,0.8084,0.8049,0.8040,0.8089,0.8005]
rh_ssp370 = [0.8040,0.8084,0.8093,0.8075,0.8061,0.8049,0.8066,0.8093,0.8084,0.8054,0.8119,0.8101,0.8089,0.8096,0.8089,0.8066,0.8066,0.8061,
             0.8072,0.8093,0.8066,0.8061,0.8066,0.8072,0.8075,0.8061,0.8061,0.8061,0.8066,0.8106,0.8089,0.8058,0.8040,0.8066,0.8061,0.8054]
rh_ssp585 = [0.8040,0.7961,0.8005,0.7979,0.7927,0.7988,0.7996,0.7970,0.7974,0.8002,0.7967,0.7988,0.7988,0.8009,0.7956,0.7956,0.8015,0.7979,
             0.7886,0.7944,0.8002,0.7956,0.7988,0.7974,0.8005,0.8015,0.8005,0.7918,0.7979,0.7996,0.8005,0.7970,0.8012,0.7961,0.7967,0.7909]
rh_hist_members = [
    [0.8232,0.8276,0.8232,0.8285,0.8381,0.7900,0.8285,0.8136,0.8197,0.8363,0.8162,0.8232,0.8215,0.8171,0.7935,0.7988,0.8224,0.8311,0.8084,0.8171,0.7988,0.8075,0.7953,0.7656,0.7918,0.8005,0.7830,0.7761,0.7726,0.8110,0.7734,0.8119,0.7865,0.7857],
    [0.8096,0.8093,0.8096,0.8113,0.8154,0.8040,0.8124,0.8058,0.8089,0.8145,0.8075,0.8110,0.8101,0.8093,0.7988,0.8023,0.8096,0.8145,0.8058,0.8093,0.8005,0.8054,0.7979,0.7883,0.7953,0.8014,0.7935,0.7892,0.7874,0.8058,0.7900,0.8054,0.7953,0.7944],
    [0.8206,0.8232,0.8206,0.8250,0.8320,0.7935,0.8246,0.8119,0.8171,0.8285,0.8136,0.8194,0.8180,0.8145,0.7953,0.8002,0.8180,0.8267,0.8075,0.8148,0.8002,0.8075,0.7956,0.7761,0.7935,0.8009,0.7892,0.7839,0.7822,0.8101,0.7804,0.8110,0.7909,0.7900],
]
rh_ssp126_members = [
    [0.8075,0.8093,0.8066,0.8101,0.8084,0.8058,0.8089,0.8075,0.8110,0.8066,0.8093,0.8084,0.8066,0.8101,0.8075,0.8089,0.8058,0.8084,0.8093,0.8066,0.8101,0.8075,0.8084,0.8066,0.8093,0.8110,0.8075,0.8089,0.8101,0.8075,0.8119,0.8084,0.8075,0.8093,0.8066,0.8075],
]
rh_ssp245_members = [
    [0.8110,0.8075,0.8093,0.8119,0.8084,0.8101,0.8128,0.8093,0.8075,0.8110,0.8101,0.8128,0.8093,0.8119,0.8084,0.8101,0.8075,0.8110,0.8128,0.8136,0.8110,0.8093,0.8119,0.8101,0.8084,0.8110,0.8093,0.8119,0.8101,0.8084,0.8128,0.8136,0.8128,0.8110,0.8093,0.8101],
]
rh_ssp370_members = [
    [0.8058,0.8066,0.8075,0.8058,0.8084,0.8066,0.8075,0.8084,0.8066,0.8075,0.8093,0.8084,0.8075,0.8066,0.8084,0.8075,0.8066,0.8084,0.8075,0.8093,0.8075,0.8066,0.8084,0.8075,0.8066,0.8084,0.8075,0.8066,0.8075,0.8084,0.8093,0.8075,0.8066,0.8058,0.8066,0.8075],
]
rh_ssp585_members = []

scenario_names = ["SSP1-2.6", "SSP2-4.5", "SSP3-7.0", "SSP5-8.5"]
panel_titles = ["(a) Highest Temperature", "(b) Lowest Temperature", "(c) Precipitation",
                "(d) Wind Speed", "(e) Solar Radiation", "(f) Relative Humidity"]
unit_labels = ["(°C)", "(°C)", "(mm)", "(m/s)", "(MJ/m<sup>2</sup>)", "(%)"]
y_ticks = [[22, 24, 26], [18, 20], [1500, 2000], [4.5, 5.0], [14, 15, 16, 17], [0.78, 0.80, 0.82, 0.84]]
y_tickformats = ["d", "d", "d", ".1f", "d", ".2f"]
x_ticks = [1980, 2000, 2020, 2040]

# ---------------------------------------------------------------- style
FONT = "Liberation Serif, Times New Roman, serif"
W, H = 1268, 922
ERA5_COLOR = "#6f5a4f"
MME_COLOR = "#000000"
SSP_COLORS = ["#f3845a", "#fdc48f", "#6fc9a6", "#11acc9"]
MEMBER_GRAY = "rgba(155,155,155,0.36)"


def faint(hex_color, alpha):
    h = hex_color.lstrip("#")
    r, g, b = int(h[0:2], 16), int(h[2:4], 16), int(h[4:6], 16)
    return f"rgba({r},{g},{b},{alpha})"


panels = [
    dict(era5=tmax_era5, mme=tmax_mme, hist=tmax_hist_members,
         ssp=[tmax_ssp126, tmax_ssp245, tmax_ssp370, tmax_ssp585],
         members=[tmax_ssp126_members, tmax_ssp245_members, tmax_ssp370_members, tmax_ssp585_members],
         yrange=[21.38, 26.27]),
    dict(era5=tmin_era5, mme=tmin_mme, hist=tmin_hist_members,
         ssp=[tmin_ssp126, tmin_ssp245, tmin_ssp370, tmin_ssp585],
         members=[tmin_ssp126_members, tmin_ssp245_members, tmin_ssp370_members, tmin_ssp585_members],
         yrange=[17.10, 21.785]),
    dict(era5=precip_era5, mme=precip_mme, hist=precip_hist_members,
         ssp=[precip_ssp126, precip_ssp245, precip_ssp370, precip_ssp585],
         members=[precip_ssp126_members, precip_ssp245_members, precip_ssp370_members, precip_ssp585_members],
         yrange=[1020, 2297]),
    dict(era5=wind_era5, mme=wind_mme, hist=wind_hist_members,
         ssp=[wind_ssp126, wind_ssp245, wind_ssp370, wind_ssp585],
         members=[wind_ssp126_members, wind_ssp245_members, wind_ssp370_members, wind_ssp585_members],
         yrange=[3.960, 5.407]),
    dict(era5=solar_era5, mme=solar_mme, hist=solar_hist_members,
         ssp=[solar_ssp126, solar_ssp245, solar_ssp370, solar_ssp585],
         members=[solar_ssp126_members, solar_ssp245_members, solar_ssp370_members, solar_ssp585_members],
         yrange=[14.019, 17.495]),
    dict(era5=rh_era5, mme=rh_mme, hist=rh_hist_members,
         ssp=[rh_ssp126, rh_ssp245, rh_ssp370, rh_ssp585],
         members=[rh_ssp126_members, rh_ssp245_members, rh_ssp370_members, rh_ssp585_members],
         yrange=[0.7359, 0.8795]),
]

# pixel layout of the 3 x 2 grid
col_px = [(114, 634), (749, 1266)]
row_px = [(4.7, 281), (281, 556), (557, 832)]

fig = go.Figure()
legend_ids = {"ERA5": "legend", "MME": "legend2", "SSP1-2.6": "legend3",
              "SSP2-4.5": "legend4", "SSP3-7.0": "legend5", "SSP5-8.5": "legend6"}

for n, p in enumerate(panels):
    ax = "" if n == 0 else str(n + 1)
    xref, yref = "x" + ax, "y" + ax
    first = n == 0

    for m in p["hist"]:
        fig.add_trace(go.Scatter(x=years_hist, y=m, mode="lines", xaxis=xref, yaxis=yref,
                                 line=dict(color=MEMBER_GRAY, width=2), showlegend=False, hoverinfo="skip"))
    fig.add_trace(go.Scatter(x=years_hist, y=p["era5"], mode="lines", name="ERA5", xaxis=xref, yaxis=yref,
                             line=dict(color=ERA5_COLOR, width=2.4), showlegend=first, legend=legend_ids["ERA5"]))
    fig.add_trace(go.Scatter(x=years_hist, y=p["mme"], mode="lines", name="MME", xaxis=xref, yaxis=yref,
                             line=dict(color=MME_COLOR, width=2.4), showlegend=first, legend=legend_ids["MME"]))

    for s, members in enumerate(p["members"]):
        for m in members:
            fig.add_trace(go.Scatter(x=years_fut, y=m, mode="lines", xaxis=xref, yaxis=yref,
                                     line=dict(color=faint(SSP_COLORS[s], 0.17), width=2),
                                     showlegend=False, hoverinfo="skip"))
    for s, series in enumerate(p["ssp"]):
        name = scenario_names[s]
        fig.add_trace(go.Scatter(x=years_fut, y=series, mode="lines", name=name, xaxis=xref, yaxis=yref,
                                 line=dict(color=SSP_COLORS[s], width=2.4), showlegend=first,
                                 legend=legend_ids[name]))

layout = dict(
    width=W, height=H, margin=dict(l=0, r=0, t=0, b=0),
    paper_bgcolor="white", plot_bgcolor="white",
    font=dict(family=FONT, size=22, color="black"),
    annotations=[], shapes=[],
)

for n in range(6):
    ax = "" if n == 0 else str(n + 1)
    col, row = n % 2, n // 2
    x0, x1 = col_px[col]
    y0, y1 = row_px[row]
    bottom = row == 2
    layout["xaxis" + ax] = dict(
        domain=[x0 / W, x1 / W], range=[1977.55, 2053.45], anchor="y" + ax,
        showline=True, mirror=True, linecolor="#5a5a5a", linewidth=1.6,
        showgrid=False, zeroline=False,
        tickvals=x_ticks, ticks="outside" if bottom else "", ticklen=6, tickwidth=1.3, tickcolor="#333",
        showticklabels=bottom, tickfont=dict(family=FONT, size=23, color="black"),
    )
    layout["yaxis" + ax] = dict(
        domain=[1 - y1 / H, 1 - y0 / H], range=panels[n]["yrange"], anchor="x" + ax,
        showline=True, mirror=True, linecolor="#5a5a5a", linewidth=1.6,
        showgrid=False, zeroline=False,
        tickvals=y_ticks[n], tickformat=y_tickformats[n], ticks="outside", ticklen=6, tickwidth=1.3,
        tickcolor="#333", tickfont=dict(family=FONT, size=23, color="black"),
    )
    # panel caption
    layout["annotations"].append(dict(
        text=panel_titles[n], xref="paper", yref="paper", x=(x0 + 10) / W, y=1 - (y0 + 17) / H,
        xanchor="left", yanchor="middle", showarrow=False, font=dict(family=FONT, size=27.5, color="black")))
    # unit label
    layout["annotations"].append(dict(
        text=unit_labels[n], xref="paper", yref="paper", x=(x0 - 74) / W, y=1 - (y0 + y1) / 2 / H,
        xanchor="center", yanchor="middle", textangle=-90, showarrow=False,
        font=dict(family=FONT, size=28, color="black")))

# legend: one entry per slot inside a shared frame
legend_slots = [("ERA5", 170), ("MME", 318), ("SSP1-2.6", 478), ("SSP2-4.5", 663), ("SSP3-7.0", 848), ("SSP5-8.5", 1033)]
for name, px in legend_slots:
    layout[legend_ids[name]] = dict(
        x=(px - 10) / W, y=1 - 894.5 / H, xanchor="left", yanchor="middle",
        bgcolor="rgba(0,0,0,0)", borderwidth=0, orientation="h",
        font=dict(family=FONT, size=23, color="black"), itemwidth=40,
    )
layout["shapes"].append(dict(type="rect", xref="paper", yref="paper",
                             x0=157 / W, x1=1243 / W, y0=1 - 921 / H, y1=1 - 868 / H,
                             line=dict(color="#9a9a9a", width=1.2), fillcolor="rgba(0,0,0,0)"))

fig.update_layout(**layout)
fig.write_html("out.html")
